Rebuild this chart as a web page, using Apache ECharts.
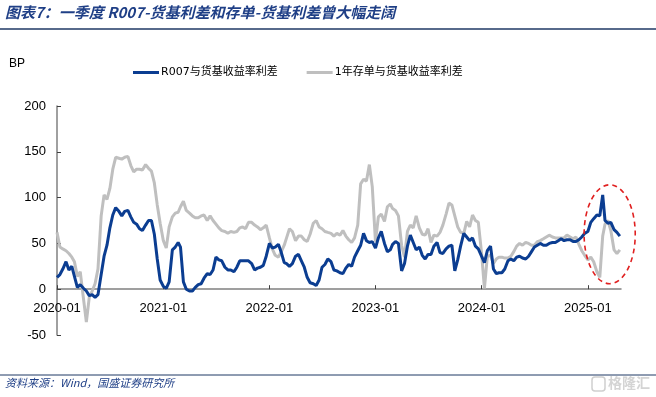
<!DOCTYPE html>
<html><head><meta charset="utf-8">
<script src="https://cdn.jsdelivr.net/npm/echarts@6/dist/echarts.min.js"></script>
<style>html,body{margin:0;padding:0;background:#fff}#c{width:656px;height:397px}</style>
</head><body><div id="c"></div>
<script>
const dates = [
'2020-01-01','2020-01-11','2020-01-21','2020-02-01','2020-02-11','2020-02-21','2020-03-01','2020-03-11','2020-03-21','2020-04-01','2020-04-11','2020-04-21',
'2020-05-01','2020-05-11','2020-05-21','2020-06-01','2020-06-11','2020-06-21','2020-07-01','2020-07-11','2020-07-21','2020-08-01','2020-08-11','2020-08-21',
'2020-09-01','2020-09-11','2020-09-21','2020-10-01','2020-10-11','2020-10-21','2020-11-01','2020-11-11','2020-11-21','2020-12-01','2020-12-11','2020-12-21',
'2021-01-01','2021-01-11','2021-01-21','2021-02-01','2021-02-11','2021-02-21','2021-03-01','2021-03-11','2021-03-21','2021-04-01','2021-04-11','2021-04-21',
'2021-05-01','2021-05-11','2021-05-21','2021-06-01','2021-06-11','2021-06-21','2021-07-01','2021-07-11','2021-07-21','2021-08-01','2021-08-11','2021-08-21',
'2021-09-01','2021-09-11','2021-09-21','2021-10-01','2021-10-11','2021-10-21','2021-11-01','2021-11-11','2021-11-21','2021-12-01','2021-12-11','2021-12-21',
'2022-01-01','2022-01-11','2022-01-21','2022-02-01','2022-02-11','2022-02-21','2022-03-01','2022-03-11','2022-03-21','2022-04-01','2022-04-11','2022-04-21',
'2022-05-01','2022-05-11','2022-05-21','2022-06-01','2022-06-11','2022-06-21','2022-07-01','2022-07-11','2022-07-21','2022-08-01','2022-08-11','2022-08-21',
'2022-09-01','2022-09-11','2022-09-21','2022-10-01','2022-10-11','2022-10-21','2022-11-01','2022-11-11','2022-11-21','2022-12-01','2022-12-11','2022-12-21',
'2023-01-01','2023-01-11','2023-01-21','2023-02-01','2023-02-11','2023-02-21','2023-03-01','2023-03-11','2023-03-21','2023-04-01','2023-04-11','2023-04-21',
'2023-05-01','2023-05-11','2023-05-21','2023-06-01','2023-06-11','2023-06-21','2023-07-01','2023-07-11','2023-07-21','2023-08-01','2023-08-11','2023-08-21',
'2023-09-01','2023-09-11','2023-09-21','2023-10-01','2023-10-11','2023-10-21','2023-11-01','2023-11-11','2023-11-21','2023-12-01','2023-12-11','2023-12-21',
'2024-01-01','2024-01-11','2024-01-21','2024-02-01','2024-02-11','2024-02-21','2024-03-01','2024-03-11','2024-03-21','2024-04-01','2024-04-11','2024-04-21',
'2024-05-01','2024-05-11','2024-05-21','2024-06-01','2024-06-11','2024-06-21','2024-07-01','2024-07-11','2024-07-21','2024-08-01','2024-08-11','2024-08-21',
'2024-09-01','2024-09-11','2024-09-21','2024-10-01','2024-10-11','2024-10-21','2024-11-01','2024-11-11','2024-11-21','2024-12-01','2024-12-11','2024-12-21',
'2025-01-01','2025-01-11','2025-01-21','2025-02-01','2025-02-11','2025-02-21','2025-03-01','2025-03-11','2025-03-21','2025-04-01','2025-04-11','2025-04-21'
];

// R007与货基收益率利差 (BP)
const r007Spread = [
13,16,22,30,21,25,14,2,5,1,-2,-7,-6,-9,-6,16,36,48,67,81,89,85,80,85,86,79,73,71,66,64,70,75,75,60,33,10,
3,1,8,43,46,51,46,8,0,-2,-2,2,5,6,12,17,16,21,35,32,31,24,21,21,19,24,31,31,31,31,28,21,23,24,26,36,
50,45,46,49,40,29,28,25,28,36,38,31,24,13,7,6,4,10,24,27,33,30,21,20,18,17,23,27,25,35,42,48,61,53,51,52,
45,56,63,50,41,43,49,52,50,20,28,47,59,51,43,46,37,33,38,38,47,51,40,39,44,47,48,20,32,47,61,57,53,56,47,44,
36,29,42,47,22,17,18,18,22,31,33,31,35,36,34,33,36,41,46,48,50,48,48,50,51,51,53,55,53,54,54,52,52,54,57,61,
63,73,77,81,80,103,75,72,73,65,62,58
];

// 1年存单与货基收益率利差 (BP)
const cdSpread = [
62,46,44,42,39,35,30,14,19,-10,-36,-9,-2,6,22,80,103,98,110,131,144,143,142,144,145,135,128,131,131,130,136,132,129,116,92,72,
53,45,68,79,83,84,90,96,86,83,80,78,78,80,81,75,80,75,71,67,64,63,61,63,62,63,67,68,66,73,73,70,68,65,67,70,
56,44,37,35,41,48,56,66,63,53,58,58,54,52,60,72,75,68,66,63,62,61,58,61,59,64,58,54,51,56,70,115,120,118,136,112,
52,79,82,74,90,93,88,86,80,48,35,63,70,67,80,67,60,59,66,51,59,58,62,70,82,94,92,80,68,62,61,74,68,81,75,73,
40,1,36,37,28,33,35,35,34,34,36,41,47,50,48,51,50,48,48,52,53,55,57,59,57,56,56,56,56,59,57,55,57,49,42,37,
32,35,30,19,13,58,71,75,64,43,39,43
];

const seriesNames = ['R007与货基收益率利差', '1年存单与货基收益率利差'];
const xMin = '2020-01-01';
const xMax = '2025-04-25';
const yMin = -50, yMax = 200, yStep = 50;
// highlighted region (data coords): centre date/value and half-extents
const highlightCenter = ['2025-03-17', 60];
const highlightHalfDays = 88;
const highlightHalfValue = 54;

const chart = echarts.init(document.getElementById('c'), null, {renderer: 'canvas'});
const axisFont = '"Liberation Sans", Arial, sans-serif';
const cjkFont = '"DejaVu Sans", "Noto Sans CJK SC", sans-serif';

chart.setOption({
  animation: false,
  backgroundColor: '#fff',
  grid: {left: 57, right: 35, top: 106, bottom: 62, containLabel: false},
  legend: {
    left: 128, top: 62,
    itemGap: 29, itemWidth: 26, itemHeight: 3,
    icon: 'rect',
    data: [seriesNames[0], seriesNames[1]],
    textStyle: {fontSize: 11, color: '#000', fontFamily: cjkFont, padding: [0,0,0,-3]}
  },
  xAxis: {
    type: 'time',
    min: xMin, max: xMax,
    splitNumber: 5,
    minInterval: 365 * 24 * 3600 * 1000,
    axisLine: {onZero: true, lineStyle: {color: '#808080', width: 1.5}},
    axisTick: {inside: true, length: 4, lineStyle: {color: '#404040'}},
    axisLabel: {formatter: '{yyyy}-{MM}', color: '#000', fontSize: 13, fontFamily: axisFont, margin: -33, showMinLabel: true},
    splitLine: {show: false}
  },
  yAxis: {
    type: 'value',
    min: yMin, max: yMax, interval: yStep,
    axisLine: {show: true, lineStyle: {color: '#808080', width: 1.5}},
    axisTick: {show: true, inside: true, length: 4, lineStyle: {color: '#404040'}},
    axisLabel: {color: '#000', fontSize: 13, fontFamily: axisFont, margin: 11},
    splitLine: {show: false}
  },
  series: [
    {
      name: seriesNames[1], type: 'line', showSymbol: false, symbol: 'none',
      data: dates.map((d, i) => [d, cdSpread[i]]),
      lineStyle: {color: '#BFBFBF', width: 3},
      itemStyle: {color: '#BFBFBF'},
      z: 2
    },
    {
      name: seriesNames[0], type: 'line', showSymbol: false, symbol: 'none',
      data: dates.map((d, i) => [d, r007Spread[i]]),
      lineStyle: {color: '#0B3D91', width: 3},
      itemStyle: {color: '#0B3D91'},
      z: 3
    }
  ]
});

const c = chart.convertToPixel({gridIndex: 0}, highlightCenter);
const edgeDate = new Date(new Date(highlightCenter[0]).getTime() + highlightHalfDays * 86400000);
const e = chart.convertToPixel({gridIndex: 0}, [edgeDate, highlightCenter[1] + highlightHalfValue]);
const rx = Math.abs(e[0] - c[0]), ry = Math.abs(c[1] - e[1]);

chart.setOption({
  graphic: [
    {type: 'text', left: 5, top: 5, style: {text: '图表7：一季度 R007-货基利差和存单-货基利差曾大幅走阔', font: 'italic bold 15px "Noto Sans CJK SC", sans-serif', fill: '#1f3f86'}},
    {type: 'line', shape: {x1: 0, y1: 29, x2: 656, y2: 29}, style: {stroke: '#1F3864', lineWidth: 1.5}},
    {type: 'text', left: 9, top: 58, style: {text: 'BP', font: '12px "Liberation Sans", sans-serif', fill: '#000'}},
    {type: 'ellipse', shape: {cx: c[0], cy: c[1], rx: rx, ry: ry}, style: {fill: 'none', stroke: '#E02020', lineWidth: 1.6, lineDash: [5, 4]}, z: 100},
    {type: 'line', shape: {x1: 0, y1: 375, x2: 656, y2: 375}, style: {stroke: '#1F3864', lineWidth: 1}},
    {type: 'text', left: 5, top: 377, style: {text: '资料来源：Wind，国盛证券研究所', font: 'italic 11px "Noto Sans CJK SC", sans-serif', fill: '#1f3f86'}},
    {type: 'rect', shape: {x: 592, y: 377, width: 13, height: 14, r: 3}, style: {fill: 'none', stroke: '#cfcfcf', lineWidth: 1.5}},
    {type: 'text', left: 608, top: 376, style: {text: '格隆汇', font: 'bold 14px "Noto Sans CJK SC", sans-serif', fill: '#d4d4d4'}}
  ]
});
</script>
</body></html>
